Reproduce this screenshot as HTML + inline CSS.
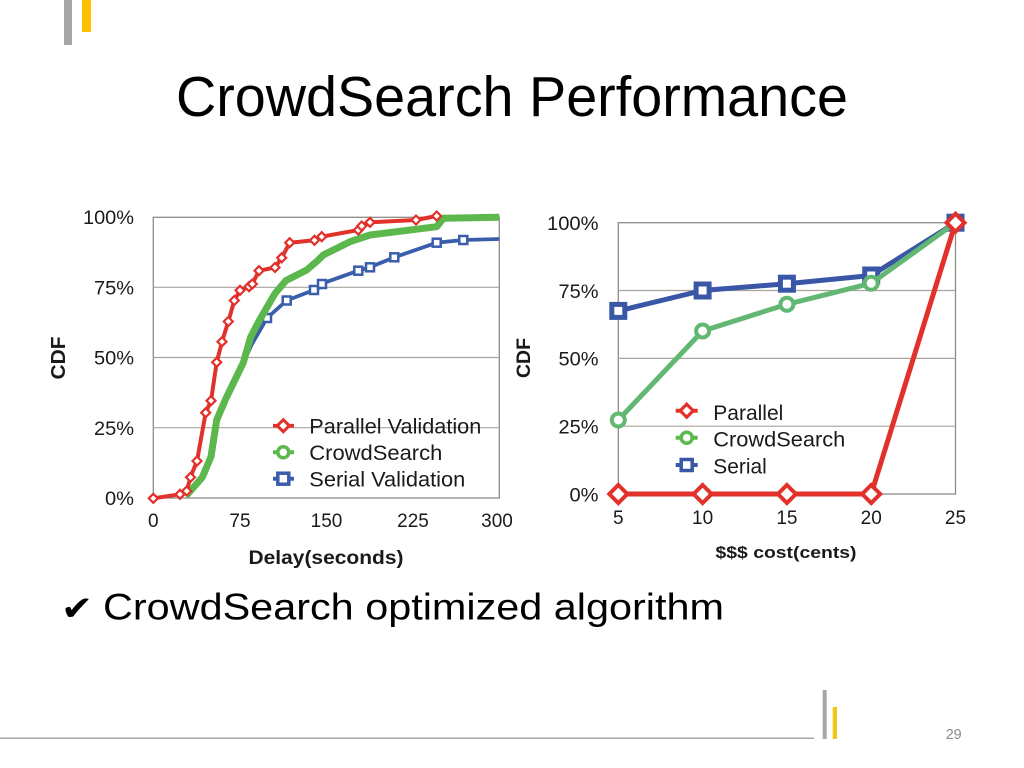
<!DOCTYPE html>
<html><head><meta charset="utf-8"><style>
html,body{margin:0;padding:0;background:#fff;width:1024px;height:768px;overflow:hidden}
svg{display:block}
text{font-family:"Liberation Sans",Arial,sans-serif}
</style></head><body>
<svg width="1024" height="768" viewBox="0 0 1024 768" xmlns="http://www.w3.org/2000/svg">
<!-- top decorations -->
<rect x="64" y="0" width="8" height="45" fill="#a6a6a6"/>
<rect x="82" y="0" width="9" height="32" fill="#ffc000"/>
<!-- title -->
<text x="176" y="116" font-size="57" fill="#000" textLength="672" lengthAdjust="spacingAndGlyphs">CrowdSearch Performance</text>

<!-- LEFT CHART -->
<g>
<rect x="153.3" y="217.3" width="346" height="280.7" fill="#fff" stroke="#8f8c86" stroke-width="1.3"/>
<g stroke="#a8a49c" stroke-width="1.2">
<line x1="153.3" y1="287.3" x2="499.3" y2="287.3"/>
<line x1="153.3" y1="357.5" x2="499.3" y2="357.5"/>
<line x1="153.3" y1="427.7" x2="499.3" y2="427.7"/>
</g>
<g font-size="19" fill="#1a1a1a" text-anchor="end">
<text x="134" y="224" textLength="51" lengthAdjust="spacingAndGlyphs">100%</text>
<text x="134" y="294.5" textLength="40" lengthAdjust="spacingAndGlyphs">75%</text>
<text x="134" y="364.7" textLength="40" lengthAdjust="spacingAndGlyphs">50%</text>
<text x="134" y="434.9" textLength="40" lengthAdjust="spacingAndGlyphs">25%</text>
<text x="134" y="505.2" textLength="29" lengthAdjust="spacingAndGlyphs">0%</text>
</g>
<g font-size="19" fill="#1a1a1a" text-anchor="middle">
<text x="153.3" y="527">0</text>
<text x="240" y="527">75</text>
<text x="326.5" y="527">150</text>
<text x="413" y="527">225</text>
<text x="497" y="527">300</text>
</g>
<text x="326" y="564" font-size="19" font-weight="bold" fill="#1a1a1a" text-anchor="middle" textLength="155" lengthAdjust="spacingAndGlyphs">Delay(seconds)</text>
<text x="65" y="358" font-size="20" font-weight="bold" fill="#1a1a1a" text-anchor="middle" transform="rotate(-90 65 358)" textLength="43" lengthAdjust="spacingAndGlyphs">CDF</text>

<!-- blue serial -->
<polyline fill="none" stroke="#3a5eab" stroke-width="3.8" stroke-linejoin="round" points="186,495 202.3,477.3 211,456.7 216.7,420 226,398.3 243.3,362.7 252,344 267,318 286.7,300.5 314,290 321.7,286.7 322.7,283.3 358.3,270.7 370,267.3 394.3,257.3 436.7,242.7 463.3,240 499.3,239"/>
<g fill="#fff" stroke="#3a5eab" stroke-width="2.5">
<rect x="282.7" y="296.5" width="8" height="8"/><rect x="310" y="286" width="8" height="8"/><rect x="318" y="280" width="8" height="8"/>
<rect x="354.3" y="266.7" width="8" height="8"/><rect x="366" y="263.3" width="8" height="8"/><rect x="390.3" y="253.3" width="8" height="8"/>
<rect x="432.7" y="238.7" width="8" height="8"/><rect x="459.3" y="236" width="8" height="8"/><rect x="263" y="314" width="8" height="8"/>
</g>
<!-- green crowdsearch -->
<polyline fill="none" stroke="#5cb84c" stroke-width="7" stroke-linejoin="round" points="186,496 202.3,477.3 211,456.7 216.7,420 226,398.3 243.3,362.7 250.7,337 259,321 275,293.5 286,280.5 306.7,270 318.3,260 323.3,255 350,241.7 370,235 436.7,226.7 443.3,218.3 499.3,217.3"/>
<!-- red parallel -->
<polyline fill="none" stroke="#e2312a" stroke-width="4" stroke-linejoin="round" points="153.3,498.3 180,494.3 186.7,491 190.5,477.3 197,461 205.7,412.7 211,400.7 216.7,362.3 222,341.7 228.3,321.5 234.3,300.5 240,290.3 249,286.7 252.3,284 259,270.7 275,267.5 281.7,257.8 289.7,242.7 314.5,240.3 321.7,236.7 358.3,230 361.7,226 370,222.3 416,220 436.7,216"/>
<g fill="#fff" stroke="#e2312a" stroke-width="2.2">
<path d="M0,-4.5 L4.5,0 L0,4.5 L-4.5,0 Z" transform="translate(153.3,498.3)"/>
<path d="M0,-4.5 L4.5,0 L0,4.5 L-4.5,0 Z" transform="translate(180,494.3)"/>
<path d="M0,-4.5 L4.5,0 L0,4.5 L-4.5,0 Z" transform="translate(186.7,491)"/>
<path d="M0,-4.5 L4.5,0 L0,4.5 L-4.5,0 Z" transform="translate(190.5,477.3)"/>
<path d="M0,-4.5 L4.5,0 L0,4.5 L-4.5,0 Z" transform="translate(197,461)"/>
<path d="M0,-4.5 L4.5,0 L0,4.5 L-4.5,0 Z" transform="translate(205.7,412.7)"/>
<path d="M0,-4.5 L4.5,0 L0,4.5 L-4.5,0 Z" transform="translate(211,400.7)"/>
<path d="M0,-4.5 L4.5,0 L0,4.5 L-4.5,0 Z" transform="translate(216.7,362.3)"/>
<path d="M0,-4.5 L4.5,0 L0,4.5 L-4.5,0 Z" transform="translate(222,341.7)"/>
<path d="M0,-4.5 L4.5,0 L0,4.5 L-4.5,0 Z" transform="translate(228.3,321.5)"/>
<path d="M0,-4.5 L4.5,0 L0,4.5 L-4.5,0 Z" transform="translate(234.3,300.5)"/>
<path d="M0,-4.5 L4.5,0 L0,4.5 L-4.5,0 Z" transform="translate(240,290.3)"/>
<path d="M0,-4.5 L4.5,0 L0,4.5 L-4.5,0 Z" transform="translate(249,286.7)"/>
<path d="M0,-4.5 L4.5,0 L0,4.5 L-4.5,0 Z" transform="translate(252.3,284)"/>
<path d="M0,-4.5 L4.5,0 L0,4.5 L-4.5,0 Z" transform="translate(259,270.7)"/>
<path d="M0,-4.5 L4.5,0 L0,4.5 L-4.5,0 Z" transform="translate(275,267.5)"/>
<path d="M0,-4.5 L4.5,0 L0,4.5 L-4.5,0 Z" transform="translate(281.7,257.8)"/>
<path d="M0,-4.5 L4.5,0 L0,4.5 L-4.5,0 Z" transform="translate(289.7,242.7)"/>
<path d="M0,-4.5 L4.5,0 L0,4.5 L-4.5,0 Z" transform="translate(314.5,240.3)"/>
<path d="M0,-4.5 L4.5,0 L0,4.5 L-4.5,0 Z" transform="translate(321.7,236.7)"/>
<path d="M0,-4.5 L4.5,0 L0,4.5 L-4.5,0 Z" transform="translate(358.3,230)"/>
<path d="M0,-4.5 L4.5,0 L0,4.5 L-4.5,0 Z" transform="translate(361.7,226)"/>
<path d="M0,-4.5 L4.5,0 L0,4.5 L-4.5,0 Z" transform="translate(370,222.3)"/>
<path d="M0,-4.5 L4.5,0 L0,4.5 L-4.5,0 Z" transform="translate(416,220)"/>
<path d="M0,-4.5 L4.5,0 L0,4.5 L-4.5,0 Z" transform="translate(436.7,216)"/>
</g>
<!-- legend left -->
<line x1="273" y1="425.7" x2="294" y2="425.7" stroke="#e2312a" stroke-width="3.6"/>
<path d="M283.3,419.7 L289.3,425.7 L283.3,431.7 L277.3,425.7 Z" fill="#fff" stroke="#e2312a" stroke-width="3"/>
<line x1="273" y1="452.3" x2="294" y2="452.3" stroke="#5cb84c" stroke-width="4"/>
<circle cx="283.3" cy="452.3" r="5.5" fill="#fff" stroke="#5cb84c" stroke-width="3.5"/>
<line x1="273" y1="478.7" x2="294" y2="478.7" stroke="#3a5eab" stroke-width="4"/>
<rect x="277.8" y="473.2" width="11" height="11" fill="#fff" stroke="#3a5eab" stroke-width="3.5"/>
<g font-size="21" fill="#1a1a1a">
<text x="309.3" y="433.3" textLength="172" lengthAdjust="spacingAndGlyphs">Parallel Validation</text>
<text x="309.3" y="460" textLength="133" lengthAdjust="spacingAndGlyphs">CrowdSearch</text>
<text x="309.3" y="486.7" textLength="156" lengthAdjust="spacingAndGlyphs">Serial Validation</text>
</g>
</g>

<!-- RIGHT CHART -->
<g>
<rect x="618.3" y="222.7" width="337.2" height="271.3" fill="#fff" stroke="#8f8c86" stroke-width="1.3"/>
<g stroke="#a8a49c" stroke-width="1.2">
<line x1="618.3" y1="290.5" x2="955.5" y2="290.5"/>
<line x1="618.3" y1="358.4" x2="955.5" y2="358.4"/>
<line x1="618.3" y1="426.2" x2="955.5" y2="426.2"/>
</g>
<g font-size="19" fill="#1a1a1a" text-anchor="end">
<text x="598.5" y="230" textLength="51.5" lengthAdjust="spacingAndGlyphs">100%</text>
<text x="598.5" y="297.8" textLength="40" lengthAdjust="spacingAndGlyphs">75%</text>
<text x="598.5" y="365.6" textLength="40" lengthAdjust="spacingAndGlyphs">50%</text>
<text x="598.5" y="433.5" textLength="40" lengthAdjust="spacingAndGlyphs">25%</text>
<text x="598.5" y="501.3" textLength="29" lengthAdjust="spacingAndGlyphs">0%</text>
</g>
<g font-size="19" fill="#1a1a1a" text-anchor="middle">
<text x="618.3" y="524">5</text>
<text x="702.6" y="524">10</text>
<text x="786.9" y="524">15</text>
<text x="871.2" y="524">20</text>
<text x="955.5" y="524">25</text>
</g>
<text x="786" y="558" font-size="17" font-weight="bold" fill="#1a1a1a" text-anchor="middle" textLength="141" lengthAdjust="spacingAndGlyphs">$$$ cost(cents)</text>
<text x="530" y="358" font-size="19" font-weight="bold" fill="#1a1a1a" text-anchor="middle" transform="rotate(-90 530 358)" textLength="40" lengthAdjust="spacingAndGlyphs">CDF</text>

<!-- blue -->
<polyline fill="none" stroke="#3a56a6" stroke-width="5" stroke-linejoin="round" points="618.3,310.9 702.6,290.5 786.9,283.7 871.2,275.5 955.5,222.7"/>
<g fill="#fff" stroke="#3a56a6" stroke-width="5">
<rect x="611.8" y="304.4" width="13" height="13"/>
<rect x="696.1" y="284" width="13" height="13"/>
<rect x="780.4" y="277.2" width="13" height="13"/>
<rect x="864.7" y="269" width="13" height="13"/>
<rect x="949" y="216.2" width="13" height="13"/>
</g>
<!-- green -->
<polyline fill="none" stroke="#62b873" stroke-width="5" stroke-linejoin="round" points="618.3,420 702.6,331 786.9,304.3 871.2,283.3 955.5,222.7"/>
<g fill="#fff" stroke="#62b873" stroke-width="4">
<circle cx="618.3" cy="420" r="6.5"/>
<circle cx="702.6" cy="331" r="6.5"/>
<circle cx="786.9" cy="304.3" r="6.5"/>
<circle cx="871.2" cy="283.3" r="6.5"/>
</g>
<!-- red -->
<polyline fill="none" stroke="#e2312a" stroke-width="5" stroke-linejoin="round" points="618.3,494 702.6,494 786.9,494 871.2,494 955.5,222.7"/>
<g fill="#fff" stroke="#e2312a" stroke-width="4">
<path d="M618.3,485 L627.3,494 L618.3,503 L609.3,494 Z"/>
<path d="M702.6,485 L711.6,494 L702.6,503 L693.6,494 Z"/>
<path d="M786.9,485 L795.9,494 L786.9,503 L777.9,494 Z"/>
<path d="M871.2,485 L880.2,494 L871.2,503 L862.2,494 Z"/>
<path d="M955.5,213.7 L964.5,222.7 L955.5,231.7 L946.5,222.7 Z"/>
</g>
<!-- legend right -->
<line x1="675.7" y1="410.7" x2="697.7" y2="410.7" stroke="#e2312a" stroke-width="4"/>
<path d="M686.7,404.2 L693.2,410.7 L686.7,417.2 L680.2,410.7 Z" fill="#fff" stroke="#e2312a" stroke-width="3.2"/>
<line x1="675.7" y1="437.7" x2="697.7" y2="437.7" stroke="#5cb84c" stroke-width="4"/>
<circle cx="686.7" cy="437.7" r="5.5" fill="#fff" stroke="#5cb84c" stroke-width="3.5"/>
<line x1="675.7" y1="465" x2="697.7" y2="465" stroke="#3a56a6" stroke-width="4"/>
<rect x="681.2" y="459.5" width="11" height="11" fill="#fff" stroke="#3a56a6" stroke-width="3.5"/>
<g font-size="21" fill="#1a1a1a">
<text x="713.3" y="420" textLength="70" lengthAdjust="spacingAndGlyphs">Parallel</text>
<text x="713.3" y="446.7" textLength="132" lengthAdjust="spacingAndGlyphs">CrowdSearch</text>
<text x="713.3" y="473.3" textLength="53.5" lengthAdjust="spacingAndGlyphs">Serial</text>
</g>
</g>

<!-- bullet -->
<text x="61" y="620" font-size="34" fill="#000" style="font-family:'DejaVu Sans',sans-serif" textLength="32" lengthAdjust="spacingAndGlyphs">✔</text>
<text x="103" y="619.5" font-size="37" fill="#000" textLength="621" lengthAdjust="spacingAndGlyphs">CrowdSearch optimized algorithm</text>

<!-- bottom decorations -->
<rect x="0" y="737.5" width="814" height="1.5" fill="#a6a6a6"/>
<rect x="822.7" y="690" width="4" height="49" fill="#a6a6a6"/>
<rect x="832.7" y="707" width="4.3" height="32" fill="#f5c518"/>
<text x="945.7" y="739" font-size="15" fill="#8c8c8c" textLength="16" lengthAdjust="spacingAndGlyphs">29</text>
</svg>
</body></html>
